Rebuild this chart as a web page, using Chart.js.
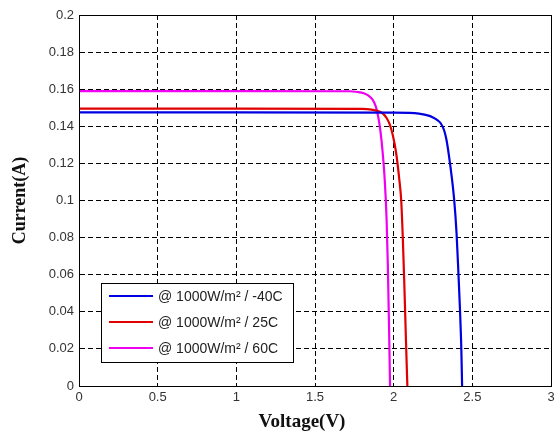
<!DOCTYPE html>
<html>
<head>
<meta charset="utf-8">
<script src="https://cdn.jsdelivr.net/npm/chart.js@4/dist/chart.umd.min.js"></script>
<style>
html,body{margin:0;padding:0;background:#fff;}
#wrap{width:555px;height:438px;position:relative;}
</style>
</head>
<body>
<div id="wrap"><canvas id="Chart1" width="555" height="438"></canvas></div>
<script>
// I-V curves
var seriesNames = ['@ 1000W/m\u00b2 / -40C', '@ 1000W/m\u00b2 / 25C', '@ 1000W/m\u00b2 / 60C'];
var seriesColors = ['#0000e0', '#e00000', '#f000f0'];

var voltM40 = [0, 1.0, 2.0, 2.1, 2.16, 2.21, 2.25, 2.28, 2.3, 2.32, 2.335, 2.35, 2.37, 2.385, 2.4, 2.412, 2.422, 2.43, 2.435];
var currM40 = [0.1475, 0.1475, 0.1474, 0.1472, 0.1468, 0.146, 0.1448, 0.1432, 0.1415, 0.138, 0.133, 0.125, 0.112, 0.1, 0.082, 0.06, 0.04, 0.02, 0];

var volt25 = [0, 1.0, 1.8, 1.86, 1.9, 1.93, 1.955, 1.975, 1.995, 2.015, 2.035, 2.048, 2.058, 2.067, 2.078, 2.087];
var curr25 = [0.1495, 0.1495, 0.1494, 0.149, 0.1482, 0.147, 0.1445, 0.141, 0.135, 0.126, 0.112, 0.1, 0.08, 0.057, 0.025, 0];

var volt60 = [0, 1.0, 1.72, 1.77, 1.81, 1.84, 1.865, 1.885, 1.9, 1.915, 1.93, 1.944, 1.955, 1.963, 1.971, 1.977];
var curr60 = [0.159, 0.159, 0.1589, 0.1585, 0.1578, 0.1565, 0.1545, 0.151, 0.146, 0.138, 0.126, 0.11, 0.09, 0.065, 0.03, 0];

var xTicks = [0, 0.5, 1, 1.5, 2, 2.5, 3];
var yTicks = [0, 0.02, 0.04, 0.06, 0.08, 0.1, 0.12, 0.14, 0.16, 0.18, 0.2];
var xTitle = 'Voltage(V)';
var yTitle = 'Current(A)';

function pts(vx, vy){
    var out = [];
    for (var i = 0; i < vx.length; i++) { out.push({x: vx[i], y: vy[i]}); }
    return out;
}

var boxPlugin = {
    id: 'boxPlugin',
    afterDraw: function(chart){
        var ctx = chart.ctx, a = chart.chartArea;
        ctx.save();
        ctx.strokeStyle = '#000';
        ctx.lineWidth = 1;
        ctx.setLineDash([]);
        ctx.strokeRect(Math.round(a.left)+0.5, Math.round(a.top)+0.5, Math.round(a.right-a.left), Math.round(a.bottom-a.top));
        // x title, a bit left of the plot centre like the original
        ctx.fillStyle = '#111';
        ctx.font = 'bold 19px "Times New Roman", "Liberation Serif", serif';
        ctx.textAlign = 'center';
        ctx.textBaseline = 'middle';
        ctx.fillText(xTitle, 302, 422);
        // legend box
        var lx = 101, ly = 283, lw = 192, lh = 79;
        ctx.fillStyle = '#fff';
        ctx.fillRect(lx, ly, lw, lh);
        ctx.strokeRect(lx+0.5, ly+0.5, lw, lh);
        ctx.font = '14px Arial, "Liberation Sans", sans-serif';
        ctx.textAlign = 'left';
        for (var i = 0; i < seriesNames.length; i++) {
            var yy = ly + 13 + i*26;
            ctx.strokeStyle = seriesColors[i];
            ctx.lineWidth = 2;
            ctx.beginPath(); ctx.moveTo(109, yy); ctx.lineTo(153, yy); ctx.stroke();
            ctx.fillStyle = '#222';
            ctx.fillText(seriesNames[i], 158, yy+1);
        }
        ctx.restore();
    }
};

window.onload = function(){
    var ctx = document.getElementById('Chart1').getContext('2d');
    var ds = [[voltM40, currM40], [volt25, curr25], [volt60, curr60]].map(function(d, i){
        return {label: seriesNames[i], data: pts(d[0], d[1]), borderColor: seriesColors[i], backgroundColor: seriesColors[i],
            borderWidth: 2.2, pointRadius: 0, showLine: true, fill: false, cubicInterpolationMode: 'monotone'};
    });
    new Chart(ctx, {
        type: 'scatter',
        data: {datasets: ds},
        options: {
            responsive: false, animation: false,
            layout: {padding: {top: 15, right: 4, left: 0, bottom: 0}},
            plugins: {legend: {display: false}, tooltip: {enabled: false}},
            scales: {
                x: {type: 'linear', min: 0, max: 3,
                    afterBuildTicks: function(s){ s.ticks = xTicks.map(function(v){return {value: v};}); },
                    afterFit: function(s){ s.height = 52; s.paddingLeft = 0; s.paddingRight = 0; },
                    grid: {color: '#000', lineWidth: 1, tickLength: 0, drawTicks: false},
                    border: {display: true, color: '#000', dash: [5, 3]},
                    ticks: {color: '#333', font: {family: 'Arial, "Liberation Sans", sans-serif', size: 13}, padding: 4, maxRotation: 0,
                        callback: function(v){ return String(v); }}
                },
                y: {min: 0, max: 0.2,
                    afterBuildTicks: function(s){ s.ticks = yTicks.map(function(v){return {value: v};}); },
                    afterFit: function(s){ s.width = 79; s.paddingTop = 0; s.paddingBottom = 0; },
                    grid: {color: '#000', lineWidth: 1, tickLength: 0, drawTicks: false},
                    border: {display: true, color: '#000', dash: [5, 3]},
                    ticks: {color: '#333', font: {family: 'Arial, "Liberation Sans", sans-serif', size: 13}, padding: 5,
                        callback: function(v){ return String(Math.round(v*100)/100); }},
                    title: {display: true, text: yTitle, color: '#111', font: {family: '"Times New Roman", "Liberation Serif", serif', size: 18, weight: 'bold'}, padding: {top: 10, bottom: 4}}
                }
            }
        },
        plugins: [boxPlugin]
    });
};
</script>
</body>
</html>
